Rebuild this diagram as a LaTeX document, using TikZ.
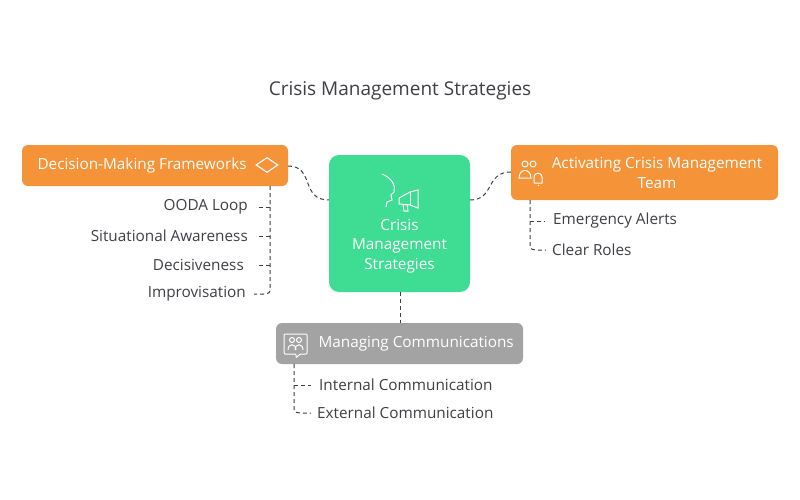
\documentclass[tikz,border=0pt]{standalone}
\usepackage{fontspec}
\setmainfont{Open Sans}
\usetikzlibrary{shapes.geometric}
\definecolor{org}{HTML}{F59339}
\definecolor{grn}{HTML}{3FDC93}
\definecolor{gry}{HTML}{A3A3A3}
\definecolor{txt}{HTML}{3F3F46}
\begin{document}
\begin{tikzpicture}[x=1pt,y=-1pt,
 box/.style={rounded corners=6pt,inner sep=0pt},
 lbl/.style={font=\fontsize{15.3}{17}\selectfont,text=white},
 item/.style={font=\fontsize{15.3}{17}\selectfont,text=txt,inner sep=0pt},
 dl/.style={dashed,dash pattern=on 4pt off 3pt,line width=1pt,draw=txt}]
\fill[white] (0,0) rectangle (800,500);
\node[font=\fontsize{19}{22}\selectfont,text=txt] (title) at (400,91) {Crisis Management Strategies};
% boxes
\fill[org,box] (22,145) rectangle (288,186);
\node[lbl,anchor=west] (dm) at (34,166) {Decision-Making Frameworks};
\node[draw=white,line width=1.1pt,diamond,minimum width=22pt,minimum height=15pt,inner sep=0pt,aspect=1.5] (dia) at (267,165) {};
\fill[grn,box,rounded corners=10pt] (329,155) rectangle (470,292);
\node[lbl,align=center,font=\fontsize{15.3}{19.5}\selectfont] (cms) at (399.5,246) {Crisis\\Management\\Strategies};
\fill[org,box] (511,145) rectangle (778,200);
\node[lbl,align=center,font=\fontsize{15.3}{19.5}\selectfont] (act) at (657,173) {Activating Crisis Management\\Team};
\fill[gry,box] (276,323) rectangle (523,364);
\node[lbl,anchor=west] (mc) at (315,344) {Managing Communications};
% icons
\begin{scope}[draw=white,line width=1pt]
\draw (382,174) .. controls (392,178) and (396,186) .. (394,192) -- (391,195) -- (392,200) -- (387,202) -- (386,207);
\draw (399,198) -- (410,192) -- (418,190) -- (418,208) -- (410,205) -- (399,204) -- cycle;
\draw (403,204) -- (404,211) -- (408,211) -- (407,204);
\draw (410,192) -- (410,205);
\draw (525,164) circle (3pt); \draw (533,164) circle (3pt);
\draw (519,178) .. controls (519,168) and (531,168) .. (531,178) -- cycle;
\draw (534,183) -- (534,177) .. controls (534,172) and (542,172) .. (542,177) -- (542,183) -- cycle;
\draw (538,185) -- (538,186);
\draw[rounded corners=1pt] (284,334) -- (307,334) -- (307,354) -- (300,354) -- (296,358) -- (296,354) -- (284,354) -- cycle;
\draw (292,340) circle (2.5pt); \draw (299,340) circle (2.5pt);
\draw (288,350) .. controls (288,343) and (296,343) .. (296,350);
\draw (295,350) .. controls (295,343) and (303,343) .. (303,350);
\end{scope}
\coordinate (dmR) at (288,166);
\coordinate (cmsL) at (329,200);
\coordinate (cmsR) at (470,200);
\coordinate (actL) at (511,172);
\coordinate (cmsB) at (400,292);
\coordinate (mcT) at (400,323);
\draw[dl] (dmR) .. controls (315,166) and (300,200) .. (cmsL);
\draw[dl] (cmsR) .. controls (495,200) and (485,172) .. (actL);
\draw[dl] (cmsB) -- (mcT);
% left items
\node[item,anchor=east] (i1) at (248,207) {OODA Loop};
\node[item,anchor=east] (i2) at (248,236) {Situational Awareness};
\node[item,anchor=east] (i3) at (244,265) {Decisiveness};
\node[item,anchor=east] (i4) at (246,294) {Improvisation};
\coordinate (lt) at (270,186);
\draw[dl] (lt) -- (270,288) .. controls (270,293) .. (264,294) -- ([xshift=8pt]i4.east);
\draw[dl,shorten >=8pt] (270,207) -- (i1.east);
\draw[dl,shorten >=8pt] (270,236) -- (i2.east);
\draw[dl,shorten >=12pt] (270,265) -- (i3.east);
% right items
\node[item,anchor=west] (e1) at (553,221) {Emergency Alerts};
\node[item,anchor=west] (e2) at (552,250) {Clear Roles};
\coordinate (rt) at (530,200);
\draw[dl] (rt) -- (530,244) .. controls (530,249) .. (536,250) -- ([xshift=-6pt]e2.west);
\draw[dl,shorten >=8pt] (530,221) -- (e1.west);
% bottom items
\node[item,anchor=west] (c1) at (319,385) {Internal Communication};
\node[item,anchor=west] (c2) at (317,413) {External Communication};
\coordinate (bt) at (294,364);
\draw[dl] (bt) -- (294,407) .. controls (294,412) .. (300,413) -- ([xshift=-6pt]c2.west);
\draw[dl,shorten >=8pt] (294,385) -- (c1.west);
\end{tikzpicture}
\end{document}
